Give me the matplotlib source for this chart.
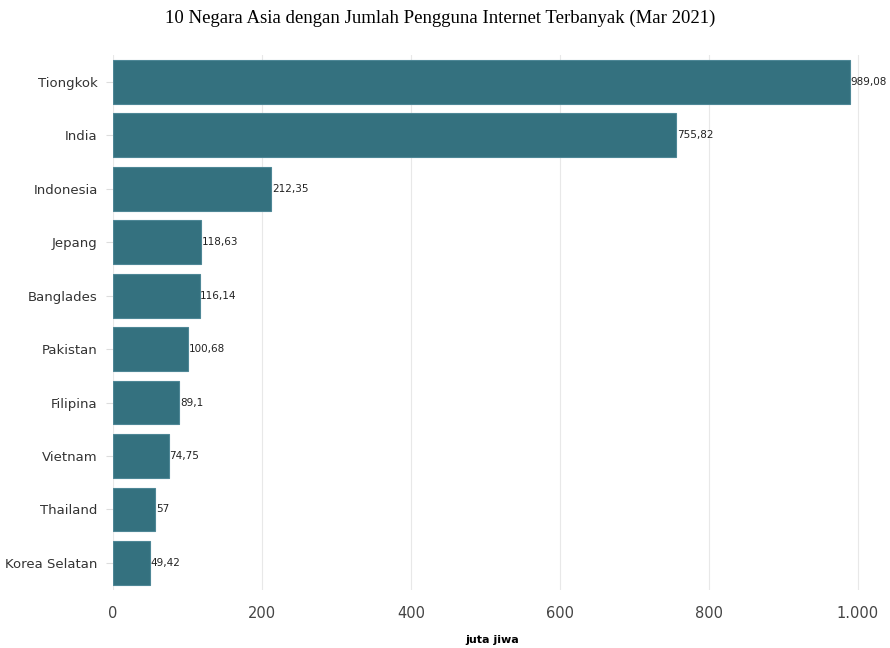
import matplotlib.pyplot as plt
from matplotlib.ticker import FuncFormatter

negara = ["Tiongkok", "India", "Indonesia", "Jepang", "Banglades",
          "Pakistan", "Filipina", "Vietnam", "Thailand", "Korea Selatan"]
pengguna = [989.08, 755.82, 212.35, 118.63, 116.14, 100.68, 89.1, 74.75, 57, 49.42]
label_nilai = ["989,08", "755,82", "212,35", "118,63", "116,14",
               "100,68", "89,1", "74,75", "57", "49,42"]

fig = plt.figure(figsize=(8.9, 6.48), dpi=100)
ax = fig.add_axes([0.127, 0.09, 0.851, 0.825])

pos = list(range(len(negara)))
ax.barh(pos, pengguna, height=0.82, color="#34717f", edgecolor="#4e8796", linewidth=0.8, zorder=2)
for p, v, t in zip(pos, pengguna, label_nilai):
    ax.text(v + 1, p, t, va="center", ha="left", fontsize=7.5, color="#222222")

ax.set_ylim(9.5, -0.5)
ax.set_xlim(0, 1017)
ax.set_yticks(pos)
ax.set_yticklabels(negara, fontsize=9.5, color="#333333")
ax.set_xticks([0, 200, 400, 600, 800, 1000])
ax.xaxis.set_major_formatter(FuncFormatter(lambda x, _: f"{int(x):,}".replace(",", ".")))
ax.tick_params(axis="x", length=0, labelsize=10.5, labelcolor="#444444", pad=12)
ax.tick_params(axis="y", length=5, color="#dddddd", pad=6)
ax.grid(axis="x", color="#e8e8e8", linewidth=0.8, zorder=0)
for s in ax.spines.values():
    s.set_visible(False)

ax.set_xlabel("juta jiwa", fontsize=8, fontweight="bold", labelpad=10)
ax.xaxis.set_label_coords(0.5, -0.085)
fig.suptitle("10 Negara Asia dengan Jumlah Pengguna Internet Terbanyak (Mar 2021)",
             family="Liberation Serif", fontsize=13.5, y=0.985, x=0.495)

fig.savefig("out.png", dpi=100)
